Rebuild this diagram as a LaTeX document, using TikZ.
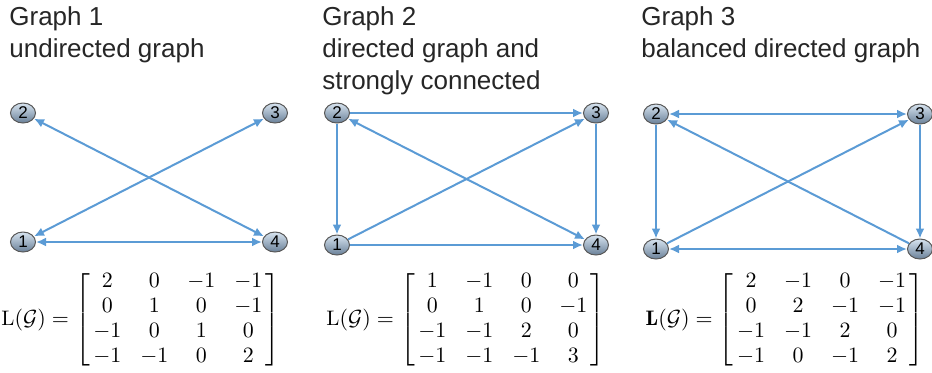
\documentclass[tikz,border=0pt]{standalone}
\usepackage{amsmath}
\usepackage{fontspec}
\usepackage{tikz}
\usetikzlibrary{shapes.geometric, arrows.meta, positioning}
\newfontfamily\headfont{Liberation Sans}
\definecolor{edgeblue}{RGB}{91, 155, 213}
\definecolor{ballhi}{RGB}{215, 228, 240}
\definecolor{balllo}{RGB}{105, 128, 152}
\tikzset{
  vertex/.style={ellipse, minimum width=12.5pt, minimum height=10pt,
    inner sep=0pt, top color=ballhi, bottom color=balllo, draw=black!65,
    line width=0.5pt, font=\headfont\fontsize{8.5}{9}\selectfont},
  heading/.style={anchor=north west, inner sep=0pt, align=left,
    text=black!85, font=\headfont\fontsize{13}{16}\selectfont},
  lapl/.style={inner sep=0pt, font=\fontsize{10.5}{12.5}\selectfont},
  arrow/.style={draw=edgeblue, line width=1pt,
    -{Latex[length=5pt,width=4.5pt]}},
  twoway/.style={draw=edgeblue, line width=1pt,
    {Latex[length=5pt,width=4.5pt]}-{Latex[length=5pt,width=4.5pt]}}
}
\newcommand{\lmat}[4]{\left[\begin{array}{@{\,}c@{\hspace{9.5pt}}c@{\hspace{9.5pt}}c@{\hspace{9.5pt}}c@{\,}}
#1\\ #2\\ #3\\ #4
\end{array}\right]}

\begin{document}
\begin{tikzpicture}[x=0.5pt, y=-0.5pt]
\useasboundingbox (0,0) rectangle (932,372);

% headings
\node (h1) [heading] at (9,6)   {Graph 1\\undirected graph};
\node (h2) [heading] at (322,6) {Graph 2\\directed graph and\\strongly connected};
\node (h3) [heading] at (641,6) {Graph 3\\balanced directed graph};

% graph 1
\node (a1) [vertex] at (23,242)  {1};
\node (a2) [vertex] at (23,113)  {2};
\node (a3) [vertex] at (275,113) {3};
\node (a4) [vertex] at (275,242) {4};
\draw[twoway] (a1) -- (a4);
\draw[twoway] (a1) -- (a3);
\draw[twoway] (a2) -- (a4);

% graph 2
\node (b1) [vertex] at (337,245) {1};
\node (b2) [vertex] at (337,113) {2};
\node (b3) [vertex] at (596,113) {3};
\node (b4) [vertex] at (596,245) {4};
\draw[arrow]  (b2) -- (b3);
\draw[arrow]  (b2) -- (b1);
\draw[arrow]  (b3) -- (b4);
\draw[arrow]  (b1) -- (b4);
\draw[arrow]  (b1) -- (b3);
\draw[twoway] (b2) -- (b4);

% graph 3
\node (c1) [vertex] at (656,249) {1};
\node (c2) [vertex] at (656,114) {2};
\node (c3) [vertex] at (920,114) {3};
\node (c4) [vertex] at (920,249) {4};
\draw[twoway] (c2) -- (c3);
\draw[arrow]  (c2) -- (c1);
\draw[arrow]  (c3) -- (c4);
\draw[twoway] (c1) -- (c4);
\draw[arrow]  (c1) -- (c3);
\draw[arrow]  (c4) -- (c2);

% Laplacians
\node (m1) [lapl] at (141,320) {$\mathrm{L}(\mathcal{G})=\lmat{2&0&-1&-1}{0&1&0&-1}{-1&0&1&0}{-1&-1&0&2}$};
\node (m2) [lapl] at (466,320) {$\mathrm{L}(\mathcal{G})=\lmat{1&-1&0&0}{0&1&0&-1}{-1&-1&2&0}{-1&-1&-1&3}$};
\node (m3) [lapl] at (785,320) {$\mathbf{L}(\mathcal{G})=\lmat{2&-1&0&-1}{0&2&-1&-1}{-1&-1&2&0}{-1&0&-1&2}$};
\end{tikzpicture}
\end{document}
